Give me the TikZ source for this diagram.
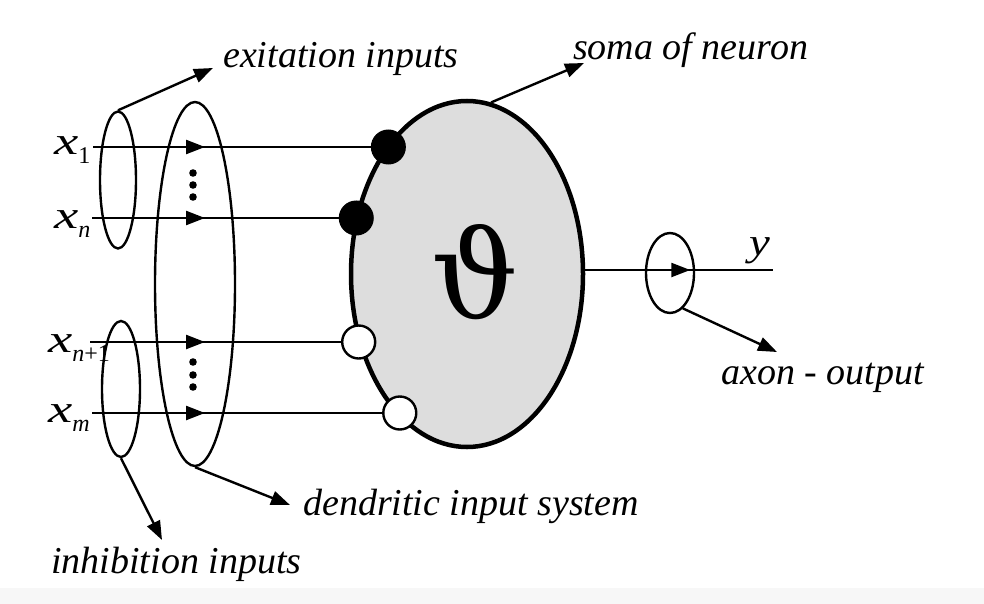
\documentclass[tikz,border=0pt]{standalone}
\usepackage{fontspec}
\setmainfont{Liberation Serif}
\newfontfamily\thetafont{DejaVu Serif}
\usepackage{graphicx}
\usetikzlibrary{arrows.meta, shapes.geometric, positioning, decorations.markings, calc}

\definecolor{somagris}{RGB}{221,221,221}

\newcommand{\entree}[1]{{\fontsize{39}{40}\selectfont\scalebox{1.4}[1]{\itshape x}}\raisebox{-9pt}{\fontsize{24}{24}\selectfont #1}}

\begin{document}
\begin{tikzpicture}[x=1pt,y=-1pt, line width=2.4pt,
    >={Triangle[length=19pt,width=14pt]},
    ovale/.style={draw, ellipse, line width=2.4pt, inner sep=0pt},
    soma/.style={draw, ellipse, line width=4.5pt, fill=somagris, minimum width=232pt, minimum height=346pt},
    excit/.style={draw, circle, fill=black, line width=1pt, minimum size=34pt, inner sep=0pt},
    inhib/.style={draw, circle, fill=white, line width=2.4pt, minimum size=33pt, inner sep=0pt},
    flechemilieu/.style={postaction={decorate}, decoration={markings, mark=at position #1 with {\arrow{>}}}},
    note/.style={font=\fontsize{38}{40}\selectfont\itshape, inner sep=0pt},
    varlab/.style={inner sep=0pt}]

    \useasboundingbox (0,0) rectangle (984,604);
    \fill[black!3] (0,588) rectangle (984,604);

    % Corps du neurone
    \node[soma] (soma) at (467,274) {};
    \node[font=\thetafont\fontsize{122}{122}\selectfont] (theta) at ([xshift=8pt,yshift=2pt]soma.center) {ϑ};

    % Entrées et synapses
    \coordinate (in1) at (93,147);
    \coordinate (inn) at (92,218);
    \coordinate (inp) at (90,342);
    \coordinate (inm) at (92,413);
    \node[excit] (s1) at (soma.121 |- in1) {};
    \node[excit] (sn) at (soma.151 |- inn) {};
    \node[inhib] (sp) at (soma.213 |- inp) {};
    \node[inhib] (sm) at (soma.245 |- inm) {};

    \draw[flechemilieu=112pt] (in1) -- (s1);
    \draw[flechemilieu=113pt] (inn) -- (sn);
    \draw[flechemilieu=115pt] (inp) -- (sp);
    \draw[flechemilieu=113pt] (inm) -- (sm);

    \foreach \y in {173,185,197,362,375,387}
        \fill (193,\y) circle (3.8pt);

    % Ellipses de regroupement
    \node[ovale, minimum width=36pt, minimum height=137pt] (exc) at (118,180) {};
    \node[ovale, minimum width=38pt, minimum height=136pt] (inh) at (121,389) {};
    \node[ovale, minimum width=80pt, minimum height=364pt] (dend) at (195,284) {};
    \node[ovale, minimum width=48pt, minimum height=80pt] (axone) at (670,273) {};

    % Variables
    \node[varlab, anchor=base west] (lx1) at (53,155) {\entree{1}};
    \node[varlab, anchor=base west] (lxn) at (53,228) {\entree{\itshape n}};
    \node[varlab, anchor=base west] (lxp) at (47,352) {\entree{{\itshape n}+1}};
    \node[varlab, anchor=base west] (lxm) at (47,422) {\entree{\itshape m}};

    % Sortie
    \coordinate (ysortie) at (773,270);
    \draw[flechemilieu=105pt] (soma.east |- ysortie) -- (ysortie);
    \node[varlab, anchor=base west] (ly) at (748,255) {\fontsize{39}{40}\selectfont\scalebox{1.2}[1]{\itshape y}};

    % Légendes avec flèches
    \coordinate (pexc) at (213,68);
    \node[note, anchor=base west] (lexc) at (222,68) {exitation inputs};
    \draw[->] (exc.north) -- (pexc);

    \coordinate (psoma) at (584,63);
    \node[note, anchor=base west] (lsoma) at (572,60) {soma of neuron};
    \draw[->] (soma.82) -- (psoma);

    \coordinate (paxone) at (777,352);
    \node[note, anchor=base west] (laxone) at (720,384) {axon - output};
    \draw[->] (axone.290) -- (paxone);

    \coordinate (pdend) at (290,505);
    \node[note, anchor=base west] (ldend) at (302,515) {dendritic input system};
    \draw[->] (dend.south) -- (pdend);

    \coordinate (pinh) at (162,540);
    \node[note, anchor=base west] (linh) at (50,573) {inhibition inputs};
    \draw[->] (inh.south) -- (pinh);

\end{tikzpicture}
\end{document}
